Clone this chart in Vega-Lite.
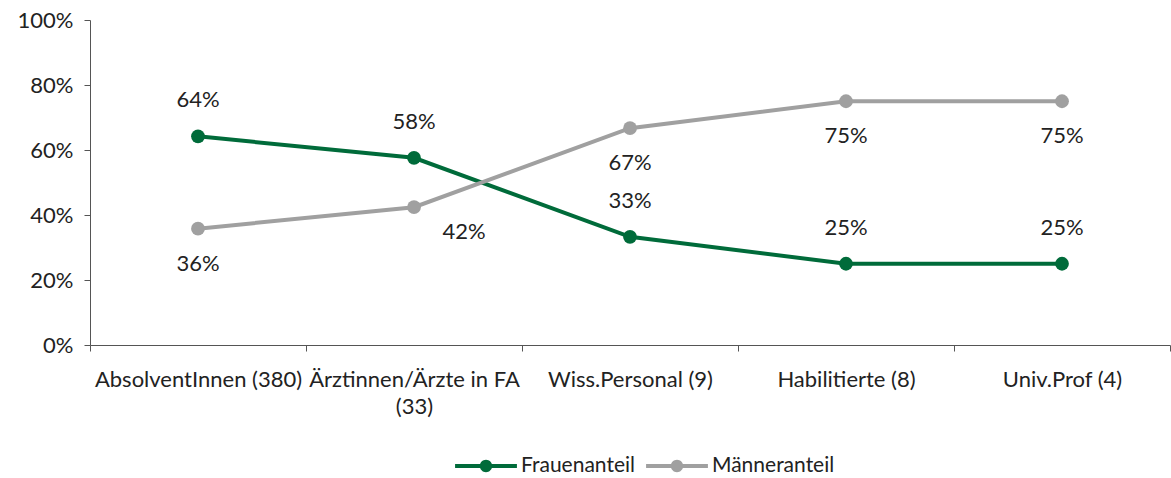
{
  "$schema": "https://vega.github.io/schema/vega-lite/v6.json",
  "autosize": {"type": "none"},
  "padding": {"left": 90, "top": 20, "right": 1, "bottom": 133},
  "width": 1080,
  "height": 325,
  "data": {"values": [
    {"cat": "AbsolventInnen (380)", "serie": "Frauenanteil", "wert": 0.642},
    {"cat": "Ärztinnen/Ärzte in FA (33)", "serie": "Frauenanteil", "wert": 0.576},
    {"cat": "Wiss.Personal (9)", "serie": "Frauenanteil", "wert": 0.333},
    {"cat": "Habilitierte (8)", "serie": "Frauenanteil", "wert": 0.25},
    {"cat": "Univ.Prof (4)", "serie": "Frauenanteil", "wert": 0.25},
    {"cat": "AbsolventInnen (380)", "serie": "Männeranteil", "wert": 0.358},
    {"cat": "Ärztinnen/Ärzte in FA (33)", "serie": "Männeranteil", "wert": 0.424},
    {"cat": "Wiss.Personal (9)", "serie": "Männeranteil", "wert": 0.667},
    {"cat": "Habilitierte (8)", "serie": "Männeranteil", "wert": 0.75},
    {"cat": "Univ.Prof (4)", "serie": "Männeranteil", "wert": 0.75}
  ]},
  "encoding": {
    "x": {
      "field": "cat", "type": "nominal", "sort": null,
      "scale": {"paddingInner": 0, "paddingOuter": 0},
      "axis": {
        "title": null, "labelAngle": 0, "labelFontSize": 22, "labelColor": "#222222",
        "labelPadding": 18, "tickBand": "extent", "tickSize": 6, "tickColor": "#555555",
        "domainColor": "#555555", "labelLineHeight": 27, "labelLimit": 400, "labelOverlap": false,
        "labelExpr": "datum.value == 'Ärztinnen/Ärzte in FA (33)' ? ['Ärztinnen/Ärzte in FA', '(33)'] : datum.value"
      }
    },
    "y": {
      "field": "wert", "type": "quantitative",
      "scale": {"domain": [0, 1]},
      "axis": {
        "title": null, "format": ".0%", "values": [0, 0.2, 0.4, 0.6, 0.8, 1],
        "grid": false, "labelFontSize": 22, "labelColor": "#222222", "labelPadding": 11,
        "tickSize": 6, "tickColor": "#555555", "domainColor": "#555555"
      }
    },
    "color": {
      "field": "serie", "type": "nominal",
      "scale": {"domain": ["Frauenanteil", "Männeranteil"], "range": ["#006B3A", "#A0A0A0"]},
      "legend": {
        "title": null, "orient": "none", "direction": "horizontal",
        "legendX": 375, "legendY": 425,
        "labelFontSize": 21, "labelColor": "#222222", "labelOffset": 14, "columnPadding": 11,
        "symbolType": "M-1.5,-0.1H1.5V0.1H-1.5Z M0.3,0A0.3,0.3 0 1,1 -0.3,0A0.3,0.3 0 1,1 0.3,0Z",
        "symbolSize": 1700, "symbolStrokeWidth": 0,
        "encode": {"symbols": {"update": {"fill": {"scale": "color", "field": "value"}, "stroke": {"value": "transparent"}}}}
      }
    }
  },
  "layer": [
    {"mark": {"type": "line", "strokeWidth": 4}},
    {"mark": {"type": "point", "filled": true, "opacity": 1, "size": 190}},
    {
      "transform": [{"filter": "datum.serie == 'Frauenanteil'"}],
      "mark": {"type": "text", "dy": -36, "fontSize": 22, "color": "#222222"},
      "encoding": {"text": {"field": "wert", "format": ".0%"}, "color": {"value": "#222222"}}
    },
    {
      "transform": [{"filter": "datum.serie == 'Männeranteil' && datum.cat != 'Ärztinnen/Ärzte in FA (33)'"}],
      "mark": {"type": "text", "dy": 35, "fontSize": 22, "color": "#222222"},
      "encoding": {"text": {"field": "wert", "format": ".0%"}, "color": {"value": "#222222"}}
    },
    {
      "transform": [{"filter": "datum.serie == 'Männeranteil' && datum.cat == 'Ärztinnen/Ärzte in FA (33)'"}],
      "mark": {"type": "text", "dy": 25, "dx": 50, "fontSize": 22, "color": "#222222"},
      "encoding": {"text": {"field": "wert", "format": ".0%"}, "color": {"value": "#222222"}}
    }
  ],
  "config": {
    "view": {"stroke": null},
    "font": "Lato"
  }
}
